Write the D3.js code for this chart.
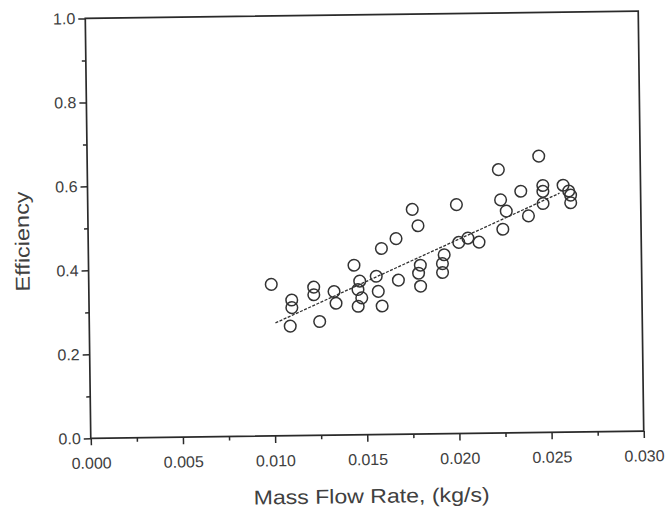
<!DOCTYPE html>
<html>
<head>
<meta charset="utf-8">
<script src="https://cdn.jsdelivr.net/npm/d3@7/dist/d3.min.js"></script>
<style>
  html, body { margin: 0; padding: 0; background: #fff; }
  svg { display: block; }
  text { font-family: "Liberation Sans", Arial, sans-serif; fill: #404040; }
</style>
</head>
<body>
<svg id="chart" width="671" height="516"></svg>
<script>
// Measured mass flow rate (kg/s) and collector efficiency
const flowRate = [
  0.0099, 0.0110, 0.0110, 0.0109, 0.0122, 0.0122, 0.0125, 0.0133, 0.0134,
  0.0144, 0.0147, 0.0146, 0.0148, 0.0146, 0.0156, 0.0157, 0.0159, 0.0159,
  0.0167, 0.0168, 0.0176, 0.0179, 0.0180, 0.0179, 0.0180, 0.0193, 0.0192,
  0.0192, 0.0200, 0.0201, 0.0206, 0.0212, 0.0223, 0.0224, 0.0227, 0.0225,
  0.0235, 0.0239, 0.0245, 0.0247, 0.0247, 0.0247, 0.0258, 0.0261, 0.0262,
  0.0262
];
const efficiency = [
  0.361, 0.323, 0.305, 0.261, 0.353, 0.335, 0.271, 0.342, 0.314,
  0.404, 0.366, 0.346, 0.326, 0.306, 0.377, 0.341, 0.306, 0.443,
  0.466, 0.367, 0.535, 0.496, 0.402, 0.383, 0.352, 0.426, 0.405,
  0.384, 0.545, 0.455, 0.465, 0.455, 0.627, 0.555, 0.528, 0.485,
  0.575, 0.516, 0.658, 0.588, 0.574, 0.545, 0.588, 0.574, 0.564,
  0.546
];
// Linear fit through the measurements (end points)
const fitFlow = [0.0101, 0.0256];
const fitEff = [0.269, 0.569];

const xTicks = [0.000, 0.005, 0.010, 0.015, 0.020, 0.025, 0.030];
const xMinor = [0.0025, 0.0075, 0.0125, 0.0175, 0.0225, 0.0275];
const yTicks = [0.0, 0.2, 0.4, 0.6, 0.8, 1.0];
const yMinor = [0.1, 0.3, 0.5, 0.7, 0.9];

const xLabel = "Mass Flow Rate, (kg/s)";
const yLabel = "Efficiency";

const plot = { left: 88, right: 641, top: 14.75, bottom: 434.75 };
const cx = (plot.left + plot.right) / 2, cy = (plot.top + plot.bottom) / 2;

const svg = d3.select("#chart");
// the whole figure sits slightly tilted on the page
const root = svg.append("g").attr("transform", `rotate(-0.75, ${cx}, ${cy})`);

const x = d3.scaleLinear().domain([0, 0.030]).range([plot.left, plot.right]);
const y = d3.scaleLinear().domain([0, 1.0]).range([plot.bottom, plot.top]);

const axisColor = "#2a2a2a";

// frame
root.append("rect")
  .attr("x", plot.left).attr("y", plot.top)
  .attr("width", plot.right - plot.left).attr("height", plot.bottom - plot.top)
  .attr("fill", "none").attr("stroke", axisColor).attr("stroke-width", 1.7);

// bottom axis
root.append("g").attr("transform", `translate(0,${plot.bottom})`)
  .call(d3.axisBottom(x).tickValues(xTicks).tickFormat(d3.format(".3f")).tickSize(7).tickPadding(12));
root.append("g").attr("transform", `translate(0,${plot.bottom})`)
  .call(d3.axisBottom(x).tickValues(xMinor).tickFormat("").tickSize(4));

// left axis
root.append("g").attr("transform", `translate(${plot.left},0)`)
  .call(d3.axisLeft(y).tickValues(yTicks).tickFormat(d3.format(".1f")).tickSize(7).tickPadding(3));
root.append("g").attr("transform", `translate(${plot.left},0)`)
  .call(d3.axisLeft(y).tickValues(yMinor).tickFormat("").tickSize(4));

root.selectAll(".domain").remove();
root.selectAll(".tick line").attr("stroke", axisColor).attr("stroke-width", 1.5);
root.selectAll(".tick text")
  .attr("font-size", 16)
  .attr("fill", "#444")
  .style("font-family", "'Liberation Sans', Arial, sans-serif");

// axis titles
root.append("text")
  .attr("x", 368).attr("y", 503)
  .attr("text-anchor", "middle")
  .attr("font-size", 20)
  .attr("textLength", 236)
  .attr("lengthAdjust", "spacingAndGlyphs")
  .text(xLabel);

root.append("text")
  .attr("transform", `translate(29, 237) rotate(-90)`)
  .attr("text-anchor", "middle")
  .attr("font-size", 20)
  .attr("textLength", 100)
  .attr("lengthAdjust", "spacingAndGlyphs")
  .text(yLabel);

// fitted line
root.append("line")
  .attr("x1", x(fitFlow[0])).attr("y1", y(fitEff[0]))
  .attr("x2", x(fitFlow[1])).attr("y2", y(fitEff[1]))
  .attr("stroke", "#333").attr("stroke-width", 1.3)
  .attr("stroke-dasharray", "3,1.5");

// measurements
root.append("g").selectAll("circle")
  .data(flowRate.map((f, i) => [f, efficiency[i]]))
  .join("circle")
  .attr("cx", d => x(d[0]))
  .attr("cy", d => y(d[1]))
  .attr("r", 5.8)
  .attr("fill", "none")
  .attr("stroke", "#333")
  .attr("stroke-width", 1.5);
</script>
</body>
</html>
